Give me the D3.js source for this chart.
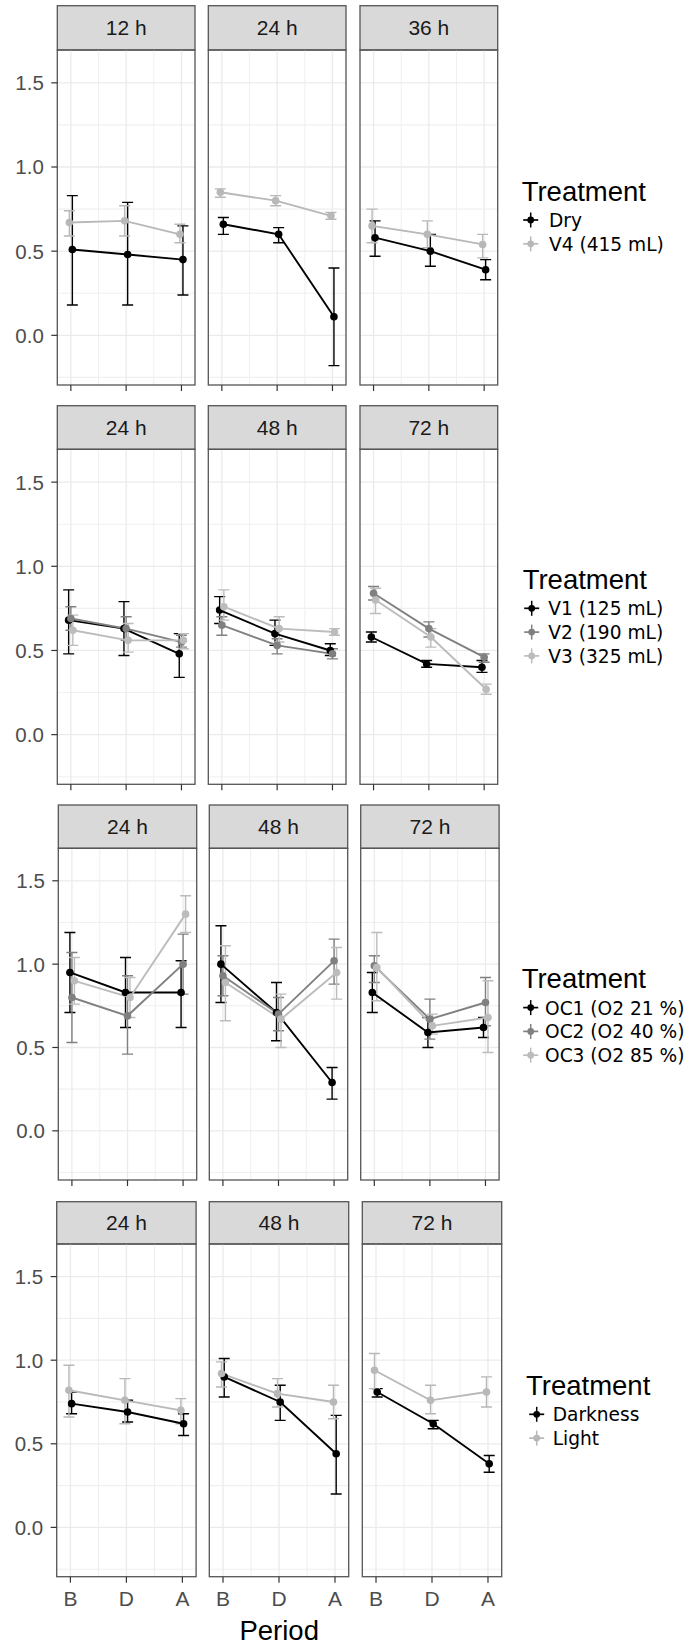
<!DOCTYPE html>
<html>
<head>
<meta charset="utf-8">
<script src="https://cdnjs.cloudflare.com/ajax/libs/d3/7.8.5/d3.min.js"></script>
<style>
  body { margin: 0; background: #fff; }
  svg { display: block; }
</style>
</head>
<body>
<div id="chart"></div>
<script>
// Data
//

var periods = ["B", "D", "A"];
var yTicks = [0.0, 0.5, 1.0, 1.5];
var yMinor = [-0.25, 0.25, 0.75, 1.25];

// row 1: dry vs. V4
var times1 = ["12 h", "24 h", "36 h"];
var treat1 = ["Dry", "V4 (415 mL)"];
// [panel][treatment][period]
var mean1 = [
  [[0.51, 0.48, 0.45], [0.67, 0.68, 0.60]],
  [[0.66, 0.60, 0.11], [0.85, 0.80, 0.71]],
  [[0.58, 0.50, 0.39], [0.65, 0.60, 0.54]]
];
var low1 = [
  [[0.18, 0.18, 0.24], [0.59, 0.59, 0.55]],
  [[0.60, 0.55, -0.18], [0.82, 0.77, 0.69]],
  [[0.47, 0.41, 0.33], [0.55, 0.52, 0.46]]
];
var high1 = [
  [[0.83, 0.79, 0.65], [0.74, 0.77, 0.66]],
  [[0.70, 0.64, 0.40], [0.87, 0.83, 0.73]],
  [[0.68, 0.60, 0.45], [0.75, 0.68, 0.60]]
];

// row 2: volumes
var times2 = ["24 h", "48 h", "72 h"];
var treat2 = ["V1 (125 mL)", "V2 (190 mL)", "V3 (325 mL)"];
var mean2 = [
  [[0.68, 0.63, 0.48], [0.69, 0.63, 0.55], [0.62, 0.56, 0.56]],
  [[0.74, 0.60, 0.50], [0.65, 0.53, 0.48], [0.76, 0.63, 0.61]],
  [[0.58, 0.42, 0.40], [0.84, 0.63, 0.46], [0.80, 0.58, 0.27]]
];
var low2 = [
  [[0.48, 0.47, 0.34], [0.62, 0.56, 0.52], [0.53, 0.49, 0.51]],
  [[0.66, 0.53, 0.47], [0.59, 0.48, 0.45], [0.68, 0.55, 0.59]],
  [[0.55, 0.40, 0.37], [0.80, 0.58, 0.43], [0.72, 0.52, 0.24]]
];
var high2 = [
  [[0.86, 0.79, 0.60], [0.76, 0.70, 0.59], [0.71, 0.66, 0.60]],
  [[0.82, 0.68, 0.54], [0.70, 0.57, 0.51], [0.86, 0.70, 0.63]],
  [[0.61, 0.44, 0.44], [0.88, 0.67, 0.48], [0.87, 0.63, 0.30]]
];

// row 3: oxygen
var times3 = ["24 h", "48 h", "72 h"];
var treat3 = ["OC1 (O2 21 %)", "OC2 (O2 40 %)", "OC3 (O2 85 %)"];
var mean3 = [
  [[0.95, 0.83, 0.83], [0.80, 0.69, 1.00], [0.90, 0.80, 1.30]],
  [[1.00, 0.71, 0.29], [0.93, 0.70, 1.02], [0.89, 0.67, 0.95]],
  [[0.83, 0.59, 0.62], [0.99, 0.67, 0.77], [0.98, 0.63, 0.68]]
];
var low3 = [
  [[0.71, 0.62, 0.62], [0.53, 0.46, 0.82], [0.76, 0.68, 1.19]],
  [[0.77, 0.54, 0.19], [0.81, 0.60, 0.88], [0.66, 0.50, 0.79]],
  [[0.71, 0.50, 0.56], [0.89, 0.55, 0.63], [0.78, 0.58, 0.47]]
];
var high3 = [
  [[1.19, 1.04, 1.02], [1.07, 0.93, 1.18], [1.04, 0.92, 1.41]],
  [[1.23, 0.89, 0.38], [1.05, 0.80, 1.15], [1.11, 0.82, 1.10]],
  [[0.95, 0.68, 0.68], [1.05, 0.79, 0.92], [1.19, 0.70, 0.90]]
];

// row 4: light
var times4 = ["24 h", "48 h", "72 h"];
var treat4 = ["Darkness", "Light"];
var mean4 = [
  [[0.74, 0.69, 0.62], [0.82, 0.76, 0.70]],
  [[0.90, 0.75, 0.44], [0.92, 0.80, 0.75]],
  [[0.81, 0.62, 0.38], [0.94, 0.76, 0.81]]
];
var low4 = [
  [[0.68, 0.63, 0.55], [0.66, 0.62, 0.62]],
  [[0.78, 0.64, 0.20], [0.84, 0.72, 0.65]],
  [[0.78, 0.59, 0.33], [0.83, 0.68, 0.72]]
];
var high4 = [
  [[0.81, 0.76, 0.68], [0.97, 0.89, 0.77]],
  [[1.01, 0.85, 0.67], [0.99, 0.89, 0.85]],
  [[0.83, 0.64, 0.43], [1.04, 0.85, 0.90]]
];

// Layout
//

var WIDTH = 694, HEIGHT = 1645;
var greys2 = ["#000000", "#b8b8b8"];
var greys3 = ["#000000", "#808080", "#bcbcbc"];

var rows = [
  {times: times1, treat: treat1, mean: mean1, low: low1, high: high1,
   top: 5.7, plotTop: 50, bottom: 385, lefts: [57.3, 208.3, 360], width: 137.7,
   dodge: [1.5, -1.5], legend: {x: 521.7, y: 200.7, keyX: 530.7, textX: 549}},
  {times: times2, treat: treat2, mean: mean2, low: low2, high: high2,
   top: 405.7, plotTop: 449.3, bottom: 784.3, lefts: [57.3, 208.3, 360], width: 137.7,
   dodge: [-2.2, 0, 2], legend: {x: 522.7, y: 589, keyX: 531.7, textX: 548.3}},
  {times: times3, treat: treat3, mean: mean3, low: low3, high: high3,
   top: 805, plotTop: 848.3, bottom: 1180, lefts: [58.3, 209.3, 360.7], width: 138.4,
   dodge: [-2, 0, 2.5], legend: {x: 521.7, y: 988.3, keyX: 530.7, textX: 545}},
  {times: times4, treat: treat4, mean: mean4, low: low4, high: high4,
   top: 1201.7, plotTop: 1244, bottom: 1576.7, lefts: [56.7, 209.3, 362.3], width: 139.4,
   dodge: [1.2, -1.5], legend: {x: 526, y: 1395, keyX: 536.7, textX: 552.7}}
];

var svg = d3.select("#chart").append("svg")
  .attr("width", WIDTH)
  .attr("height", HEIGHT)
  .style("font-family", "'Liberation Sans', Arial, sans-serif");

function drawPanel(g, row, p, isLast) {
  // one facet: strip, grid, error bars, lines, points
  var left = row.lefts[p];
  var colors = row.treat.length === 2 ? greys2 : greys3;

  var x = d3.scalePoint().domain(periods)
    .range([left, left + row.width]).padding(0.245);
  var y = d3.scaleLinear().domain([-0.295, 1.695])
    .range([row.bottom, row.plotTop]);
  var step = x.step();

  // strip
  g.append("rect")
    .attr("x", left).attr("y", row.top)
    .attr("width", row.width).attr("height", row.plotTop - row.top)
    .attr("fill", "#d9d9d9").attr("stroke", "#555").attr("stroke-width", 1.3);
  g.append("text")
    .attr("x", left + row.width / 2)
    .attr("y", (row.top + row.plotTop) / 2 + 7.5)
    .attr("text-anchor", "middle")
    .attr("font-size", 21)
    .attr("fill", "#1a1a1a")
    .text(row.times[p]);

  // grid
  g.selectAll(".hmin").data(yMinor).enter().append("line")
    .attr("x1", left).attr("x2", left + row.width)
    .attr("y1", function(d) { return y(d); }).attr("y2", function(d) { return y(d); })
    .attr("stroke", "#f0f0f0").attr("stroke-width", 1.1);
  g.selectAll(".vmin").data([0, 1]).enter().append("line")
    .attr("x1", function(i) { return x(periods[i]) + step / 2; })
    .attr("x2", function(i) { return x(periods[i]) + step / 2; })
    .attr("y1", row.plotTop).attr("y2", row.bottom)
    .attr("stroke", "#f0f0f0").attr("stroke-width", 1.1);
  g.selectAll(".hmaj").data(yTicks).enter().append("line")
    .attr("x1", left).attr("x2", left + row.width)
    .attr("y1", function(d) { return y(d); }).attr("y2", function(d) { return y(d); })
    .attr("stroke", "#ebebeb").attr("stroke-width", 1.3);
  g.selectAll(".vmaj").data(periods).enter().append("line")
    .attr("x1", function(d) { return x(d); }).attr("x2", function(d) { return x(d); })
    .attr("y1", row.plotTop).attr("y2", row.bottom)
    .attr("stroke", "#ebebeb").attr("stroke-width", 1.3);

  // series as list of {s, pts}
  var series = row.treat.map(function(t, s) {
    return {
      s: s,
      pts: periods.map(function(per, k) {
        return {
          x: x(per) + row.dodge[s],
          m: row.mean[p][s][k],
          lo: row.low[p][s][k],
          hi: row.high[p][s][k]
        };
      })
    };
  });

  // error bars
  series.forEach(function(se) {
    var eb = g.append("g")
      .attr("stroke", colors[se.s]).attr("stroke-width", 1.4).attr("fill", "none");
    se.pts.forEach(function(d) {
      eb.append("path").attr("d",
        "M" + (d.x - 5.5) + "," + y(d.hi) + "H" + (d.x + 5.5) +
        "M" + d.x + "," + y(d.hi) + "V" + y(d.lo) +
        "M" + (d.x - 5.5) + "," + y(d.lo) + "H" + (d.x + 5.5));
    });
  });

  // lines
  var line = d3.line().x(function(d) { return d.x; }).y(function(d) { return y(d.m); });
  series.forEach(function(se) {
    g.append("path")
      .attr("d", line(se.pts))
      .attr("fill", "none")
      .attr("stroke", colors[se.s])
      .attr("stroke-width", 1.9);
  });

  // points
  series.forEach(function(se) {
    g.selectAll(null).data(se.pts).enter().append("circle")
      .attr("cx", function(d) { return d.x; })
      .attr("cy", function(d) { return y(d.m); })
      .attr("r", 3.8)
      .attr("fill", colors[se.s]);
  });

  // border
  g.append("rect")
    .attr("x", left).attr("y", row.plotTop)
    .attr("width", row.width).attr("height", row.bottom - row.plotTop)
    .attr("fill", "none").attr("stroke", "#555").attr("stroke-width", 1.3);

  // x ticks
  g.selectAll(".xt").data(periods).enter().append("line")
    .attr("x1", function(d) { return x(d); }).attr("x2", function(d) { return x(d); })
    .attr("y1", row.bottom).attr("y2", row.bottom + 6)
    .attr("stroke", "#333").attr("stroke-width", 1.2);
  if (isLast) {
    g.selectAll(".xl").data(periods).enter().append("text")
      .attr("x", function(d) { return x(d); })
      .attr("y", row.bottom + 29.5)
      .attr("text-anchor", "middle")
      .attr("font-size", 21)
      .attr("fill", "#4d4d4d")
      .text(function(d) { return d; });
  }

  // y axis on first panel only
  if (p === 0) {
    g.selectAll(".yt").data(yTicks).enter().append("line")
      .attr("x1", left - 6).attr("x2", left)
      .attr("y1", function(d) { return y(d); }).attr("y2", function(d) { return y(d); })
      .attr("stroke", "#333").attr("stroke-width", 1.2);
    g.selectAll(".yl").data(yTicks).enter().append("text")
      .attr("x", left - 13.5)
      .attr("y", function(d) { return y(d) + 7.4; })
      .attr("text-anchor", "end")
      .attr("font-size", 20.5)
      .attr("fill", "#4d4d4d")
      .text(function(d) { return d3.format(".1f")(d); });
  }
}

function drawLegend(g, row) {
  var lg = row.legend;
  var colors = row.treat.length === 2 ? greys2 : greys3;
  g.append("text")
    .attr("x", lg.x).attr("y", lg.y)
    .attr("font-size", 27.5)
    .attr("fill", "#000")
    .text("Treatment");
  row.treat.forEach(function(t, i) {
    var base = lg.y + 26.3 + i * 23.8;
    var cy = base - 7;
    var c = colors[i];
    g.append("line")
      .attr("x1", lg.keyX - 7.5).attr("x2", lg.keyX + 7.5)
      .attr("y1", cy).attr("y2", cy)
      .attr("stroke", c).attr("stroke-width", 1.7);
    g.append("line")
      .attr("x1", lg.keyX).attr("x2", lg.keyX)
      .attr("y1", cy - 7.5).attr("y2", cy + 7.5)
      .attr("stroke", c).attr("stroke-width", 1.5);
    g.append("circle")
      .attr("cx", lg.keyX).attr("cy", cy).attr("r", 3.4)
      .attr("fill", c);
    g.append("text")
      .attr("x", lg.textX).attr("y", base)
      .attr("font-family", "'DejaVu Sans', Verdana, sans-serif")
      .attr("font-size", 18.6)
      .attr("fill", "#000")
      .text(t);
  });
}

rows.forEach(function(row, r) {
  var g = svg.append("g").attr("class", "row" + r);
  for (var p = 0; p < 3; p++) {
    drawPanel(g.append("g"), row, p, r === rows.length - 1);
  }
  drawLegend(g, row);
});

// x axis title
var lastRow = rows[rows.length - 1];
svg.append("text")
  .attr("x", (lastRow.lefts[0] + lastRow.lefts[2] + lastRow.width) / 2)
  .attr("y", 1640)
  .attr("text-anchor", "middle")
  .attr("font-size", 27.5)
  .attr("fill", "#000")
  .text("Period");
</script>
</body>
</html>
